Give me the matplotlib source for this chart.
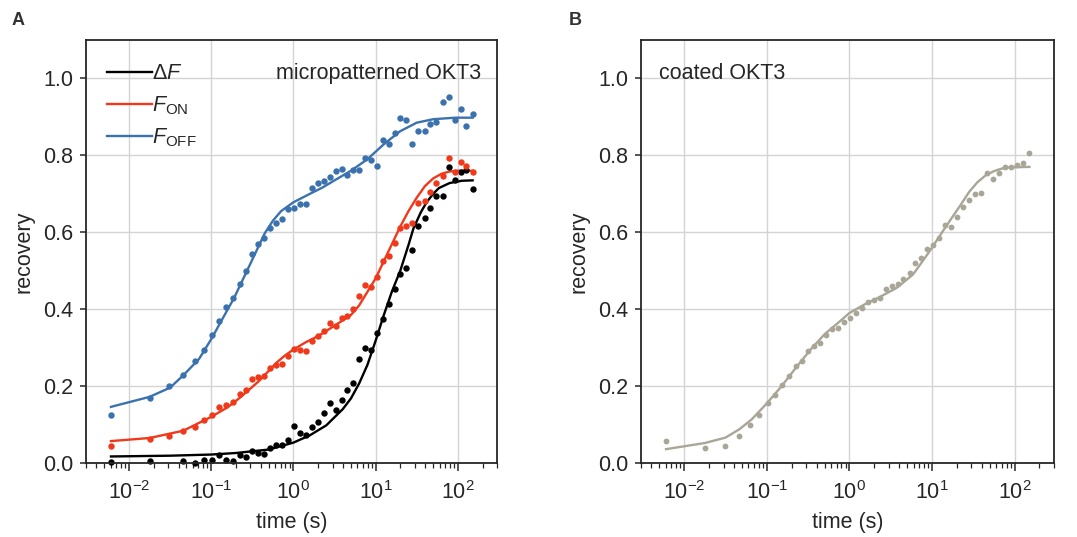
import numpy as np
import matplotlib
matplotlib.use('Agg')
import matplotlib.pyplot as plt
from matplotlib.ticker import FixedLocator, LogLocator, NullFormatter

# ---- data ----
time_s = [0.00603, 0.0180, 0.0309, 0.0457, 0.0631, 0.0813, 0.102, 0.126, 0.153, 0.186,
          0.224, 0.266, 0.316, 0.372, 0.442, 0.525, 0.617, 0.733, 0.861, 1.023,
          1.202, 1.429, 1.679, 1.995, 2.344, 2.786, 3.273, 3.846, 4.519, 5.370,
          6.310, 7.413, 8.710, 10.35, 12.30, 14.45, 16.98, 19.95, 23.71, 27.86,
          33.11, 39.36, 46.24, 54.95, 65.31, 77.62, 91.20, 108.4, 127.4, 151.4]

dF = [0.002, 0.004, np.nan, 0.004, 0.0, 0.009, 0.009, 0.020, 0.009, 0.006,
      0.020, 0.016, 0.031, 0.027, 0.024, 0.039, 0.048, 0.046, 0.061, 0.096,
      0.078, 0.074, 0.094, 0.107, 0.130, 0.157, 0.139, 0.165, 0.190, 0.209,
      0.270, 0.300, 0.293, 0.339, 0.374, 0.413, 0.452, 0.491, 0.508, 0.553,
      0.617, 0.637, 0.663, 0.694, 0.694, 0.770, 0.737, 0.757, 0.763, 0.712]

F_on = [0.043, 0.063, 0.069, 0.084, 0.093, 0.112, 0.125, 0.145, 0.150, 0.158,
        0.180, 0.191, 0.218, 0.223, 0.225, 0.247, 0.255, 0.257, 0.277, 0.297,
        0.293, 0.292, 0.316, 0.330, 0.344, 0.363, 0.356, 0.377, 0.381, 0.400,
        0.433, 0.464, 0.458, 0.484, 0.525, 0.539, 0.572, 0.611, 0.617, 0.625,
        0.675, 0.681, 0.704, 0.728, 0.746, 0.794, 0.758, 0.783, 0.773, 0.758]

F_off = [0.125, 0.169, 0.199, 0.228, 0.266, 0.294, 0.333, 0.370, 0.405, 0.430,
         0.465, 0.499, 0.543, 0.570, 0.584, 0.610, 0.625, 0.634, 0.660, 0.663,
         0.674, 0.674, 0.715, 0.729, 0.734, 0.743, 0.760, 0.764, 0.748, 0.763,
         0.763, 0.792, 0.789, 0.772, 0.841, 0.830, 0.858, 0.898, 0.893, 0.830,
         0.864, 0.863, 0.882, 0.887, 0.939, 0.951, 0.891, 0.921, 0.876, 0.907]

coated = [0.056, 0.040, 0.045, 0.070, 0.098, 0.126, 0.155, 0.177, 0.204, 0.225,
          0.251, 0.264, 0.291, 0.305, 0.313, 0.333, 0.349, 0.352, 0.367, 0.378,
          0.391, 0.403, 0.419, 0.424, 0.430, 0.452, 0.460, 0.465, 0.478, 0.495,
          0.519, 0.534, 0.557, 0.566, 0.586, 0.618, 0.614, 0.640, 0.666, 0.683,
          0.700, 0.702, 0.754, 0.739, 0.754, 0.770, 0.770, 0.774, 0.779, 0.806]

# fitted curves
fit_dF_t = [0.00603, 0.03162, 0.1, 0.1995, 0.5012, 1.0, 1.585, 2.512, 3.981, 5.012,
            6.310, 7.943, 10.0, 12.59, 15.85, 19.95, 25.12, 28.84, 35.48, 41.69,
            50.12, 58.88, 79.43, 112.2, 151.4]
fit_dF = [0.017, 0.019, 0.022, 0.026, 0.035, 0.053, 0.072, 0.098, 0.140, 0.168,
          0.207, 0.255, 0.318, 0.385, 0.447, 0.500, 0.567, 0.610, 0.652, 0.678,
          0.700, 0.715, 0.728, 0.734, 0.735]

fit_on_t = [0.00603, 0.01778, 0.04571, 0.1, 0.1585, 0.2239, 0.3802, 0.6310, 0.7943, 1.0,
            1.413, 1.995, 3.162, 5.012, 6.310, 7.943, 10.0, 12.59, 15.85, 19.95,
            25.12, 31.62, 39.81, 50.12, 63.10, 79.43, 100.0, 151.4]
fit_on = [0.057, 0.065, 0.084, 0.120, 0.145, 0.170, 0.213, 0.262, 0.280, 0.295,
          0.314, 0.330, 0.357, 0.385, 0.410, 0.445, 0.480, 0.525, 0.570, 0.615,
          0.655, 0.690, 0.720, 0.740, 0.752, 0.758, 0.760, 0.760]

fit_off_t = [0.00603, 0.01778, 0.03162, 0.04571, 0.07079, 0.1, 0.1413, 0.1905, 0.2884, 0.4467,
             0.5623, 0.7079, 1.0, 1.585, 2.239, 3.162, 5.012, 7.943, 12.59, 19.95,
             31.62, 50.12, 93.33, 151.4]
fit_off = [0.146, 0.172, 0.196, 0.228, 0.270, 0.322, 0.380, 0.430, 0.511, 0.597,
           0.630, 0.655, 0.678, 0.700, 0.716, 0.735, 0.760, 0.790, 0.829, 0.863,
           0.885, 0.894, 0.898, 0.898]

fit_coat_t = [0.00603, 0.01778, 0.03162, 0.04677, 0.06607, 0.1, 0.1514, 0.2239, 0.3388, 0.5012,
              0.7079, 1.0, 1.514, 2.344, 3.715, 5.888, 9.120, 14.45, 22.39, 28.18,
              35.48, 44.67, 56.23, 70.79, 87.10, 151.4]
fit_coat = [0.036, 0.052, 0.066, 0.088, 0.114, 0.155, 0.200, 0.247, 0.295, 0.335,
            0.362, 0.390, 0.412, 0.432, 0.455, 0.490, 0.547, 0.612, 0.672, 0.705,
            0.730, 0.748, 0.759, 0.766, 0.769, 0.770]

# ---- style ----
dark = '#262626'
fs = 15.5
plt.rcParams['font.family'] = ['Liberation Sans', 'DejaVu Sans']
plt.rcParams['mathtext.fontset'] = 'custom'
plt.rcParams['mathtext.rm'] = 'Liberation Sans'
plt.rcParams['mathtext.it'] = 'Liberation Sans:italic'
plt.rcParams['mathtext.bf'] = 'Liberation Sans:bold'
plt.rcParams['text.color'] = dark
plt.rcParams['axes.labelcolor'] = dark
plt.rcParams['xtick.color'] = dark
plt.rcParams['ytick.color'] = dark

c_black = '#000000'
c_red = '#f0391b'
c_blue = '#3b72ae'
c_grey = '#a9a597'

fig = plt.figure(figsize=(10.77, 5.37), dpi=100)
axA = fig.add_axes([0.0799, 0.1378, 0.3816, 0.7877])
axB = fig.add_axes([0.5952, 0.1378, 0.3834, 0.7877])

xticks = [1e-2, 1e-1, 1e0, 1e1, 1e2]
xlabels = [r'$10^{-2}$', r'$10^{-1}$', r'$10^{0}$', r'$10^{1}$', r'$10^{2}$']


def style_axis(ax):
    ax.set_xscale('log')
    ax.set_xlim(3e-3, 3e2)
    ax.set_ylim(0, 1.1)
    ax.xaxis.set_major_locator(FixedLocator(xticks))
    ax.set_xticklabels(xlabels)
    ax.xaxis.set_minor_locator(LogLocator(base=10, subs=np.arange(2, 10)))
    ax.xaxis.set_minor_formatter(NullFormatter())
    ax.set_yticks([0.0, 0.2, 0.4, 0.6, 0.8, 1.0])
    ax.set_yticklabels(['0.0', '0.2', '0.4', '0.6', '0.8', '1.0'])
    ax.grid(True, which='major', color='#d4d4d4', linewidth=1.0)
    ax.set_axisbelow(True)
    for s in ax.spines.values():
        s.set_color(dark)
        s.set_linewidth(1.3)
    ax.tick_params(axis='x', which='major', length=6, width=1.1, labelsize=fs, pad=7)
    ax.tick_params(axis='x', which='minor', length=3.5, width=0.9)
    ax.tick_params(axis='y', which='major', length=4, width=1.1, labelsize=fs, pad=5)
    ax.set_xlabel('time (s)', fontsize=fs, labelpad=6)
    ax.set_ylabel('recovery', fontsize=fs, labelpad=6)


# panel A
style_axis(axA)
axA.plot(fit_dF_t, fit_dF, color=c_black, lw=1.7, label=r'$\Delta F$')
axA.plot(fit_on_t, fit_on, color=c_red, lw=1.7, label=r'$F_{\mathrm{ON}}$')
axA.plot(fit_off_t, fit_off, color=c_blue, lw=1.7, label=r'$F_{\mathrm{OFF}}$')
axA.plot(time_s, dF, 'o', color=c_black, ms=4.6, mew=0, clip_on=False)
axA.plot(time_s, F_on, 'o', color=c_red, ms=4.6, mew=0, clip_on=False)
axA.plot(time_s, F_off, 'o', color=c_blue, ms=4.6, mew=0, clip_on=False)
axA.legend(loc='upper left', bbox_to_anchor=(0.02, 0.975), frameon=False, fontsize=fs,
           handlelength=2.1, handletextpad=0.0, labelspacing=0.45, borderaxespad=0.2)
axA.text(0.962, 0.922, 'micropatterned OKT3', transform=axA.transAxes,
         ha='right', va='center', fontsize=fs)

# panel B
style_axis(axB)
axB.plot(fit_coat_t, fit_coat, color=c_grey, lw=1.7)
axB.plot(time_s, coated, 'o', color=c_grey, ms=4.2, mew=0, clip_on=False)
axB.text(0.044, 0.922, 'coated OKT3', transform=axB.transAxes,
         ha='left', va='center', fontsize=fs)

fig.text(0.011, 0.962, 'A', fontsize=13, fontweight='bold', color='#333333', va='center')
fig.text(0.528, 0.962, 'B', fontsize=13, fontweight='bold', color='#333333', va='center')

fig.savefig('out.png', dpi=100)
